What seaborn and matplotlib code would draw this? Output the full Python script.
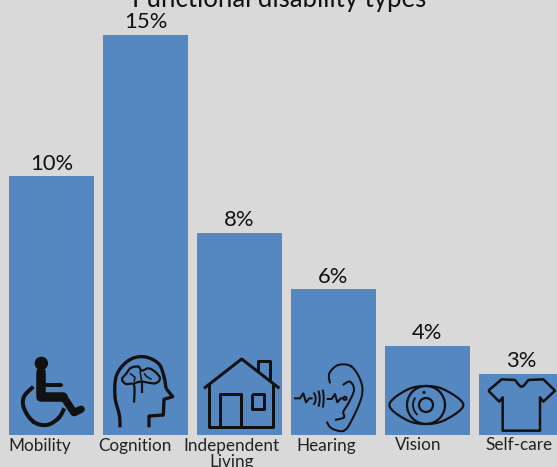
import numpy as np
import pandas as pd
import matplotlib
matplotlib.use('Agg')
import matplotlib.pyplot as plt
from matplotlib.patches import Circle, Arc
import seaborn as sns

categories = ['Mobility', 'Cognition', 'Independent\nLiving', 'Hearing', 'Vision', 'Self-care']
percents = [10, 15, 8, 6, 4, 3]
percent_labels = ['10%', '15%', '8%', '6%', '4%', '3%']
title_text = 'Functional disability types'
label_shift = [-11.5, -10.5, -8, -7, -9, -3]

bg = '#D9D9D9'
blue = '#5587C1'
ink = '#111111'

sns.set_theme(style='white')
plt.rcParams['font.family'] = 'Lato'

df = pd.DataFrame({'kind': categories, 'pct': percents})

fig = plt.figure(figsize=(5.57, 4.67), dpi=100, facecolor=bg)
ax = fig.add_axes([0, 32 / 467, 1, 435 / 467], facecolor=bg)
sns.barplot(data=df, x='kind', y='pct', color=blue, saturation=1, width=0.904,
            edgecolor='none', linewidth=0, ax=ax)
ax.set_xlim(-0.548, 5.378)
ax.set_ylim(0.85, 16.24)
ax.set_xlabel('')
ax.set_ylabel('')
ax.set_yticks([])
ax.set_xticks(range(len(categories)))
ax.set_xticklabels([])
ax.tick_params(length=0)
sns.despine(ax=ax, left=True, bottom=True, top=True, right=True)

ax.bar_label(ax.containers[0], labels=percent_labels, fontsize=15.8, color=ink, padding=2)
for i, name in enumerate(categories):
    ax.annotate(name, (i, 0), xycoords=('data', 'axes fraction'),
                xytext=(label_shift[i] * 0.72, -1.8), textcoords='offset points',
                ha='center', va='top', fontsize=12.3, color='#222222', linespacing=1.05)
fig.text(279 / 557, 1 + 1 / 467, title_text, ha='center', va='center', fontsize=18.5, color=ink)

# icons are drawn in reference pixels on a see-through layer
top = fig.add_axes([0, 0, 1, 1], facecolor='none')
top.set_xlim(0, 557)
top.set_ylim(467, 0)
top.axis('off')


def z1(pts):
    return [(x / 3, 340 + y / 3) for x, y in pts]


def z2(pts):
    return [(280 + x / 3, 340 + y / 3) for x, y in pts]


def smooth(pts, closed=False):
    p = np.array(pts, dtype=float)
    if closed:
        p = np.vstack([p[-1], p, p[0], p[1]])
    else:
        p = np.vstack([p[0], p, p[-1]])
    out = []
    t = np.linspace(0, 1, 12)[:, None]
    for i in range(1, len(p) - 2):
        a, b, c, d = p[i - 1], p[i], p[i + 1], p[i + 2]
        out.append(0.5 * (2 * b + (c - a) * t + (2 * a - 5 * b + 4 * c - d) * t ** 2 + (3 * b - a - 3 * c + d) * t ** 3))
    return np.vstack(out)


def line(pts, width=3, curve=False, closed=False, cap='butt'):
    p = smooth(pts, closed) if curve else np.array(pts)
    if closed and not curve:
        p = np.vstack([p, p[0]])
    top.plot(p[:, 0], p[:, 1], color=ink, lw=width * 0.72, solid_capstyle=cap, solid_joinstyle='round')


# wheelchair
top.add_patch(Circle(z1([(124, 70)])[0], 6, color=ink))
line(z1([(124, 97), (124, 170), (190, 170)]), 9.5, cap='round')
line(z1([(190, 170), (222, 218), (243, 208)]), 7.5, cap='round')
line(z1([(124, 135), (182, 135)]), 4, cap='round')
line(z1([(100, 140), (72, 170), (72, 205), (100, 245), (140, 255), (175, 235), (193, 205)]), 4, curve=True)

# head with brain
line(z1([(360, 262), (358, 225), (345, 170), (350, 105), (385, 62), (430, 50), (475, 70), (492, 110), (498, 145)]), 3.3, curve=True)
line(z1([(498, 145), (518, 170), (492, 178), (490, 225), (447, 228), (447, 262)]), 3.3)
line(z1([(402, 188), (402, 135), (378, 132), (366, 118), (378, 102), (392, 84), (415, 80), (425, 92), (445, 85), (465, 95), (480, 115), (465, 130), (425, 125), (402, 130)]), 2.2, curve=True)
line(z1([(425, 160), (425, 125)]), 2.2)
line(z1([(390, 100), (405, 112), (402, 125)]), 1.5)
line(z1([(420, 92), (425, 125)]), 1.5)
line(z1([(432, 100), (440, 110), (455, 118)]), 1.5)

# house
line(z1([(612, 145), (725, 57), (838, 145)]), 3)
line(z1([(773, 95), (773, 63), (810, 63), (810, 122)]), 3)
line(z1([(628, 130), (628, 262), (820, 262), (820, 133)]), 3)
line(z1([(660, 262), (660, 162), (722, 162), (722, 262)]), 3)
line(z1([(755, 162), (792, 162), (792, 206), (755, 206)]), 3, closed=True)

# ear
line(z2([(150, 130), (148, 100), (175, 75), (215, 80), (243, 125), (245, 170), (218, 235), (192, 272), (155, 265), (140, 245)]), 2, curve=True)
line(z2([(188, 135), (210, 125), (222, 150), (205, 190), (190, 215), (192, 232), (165, 240)]), 2, curve=True)
line(z2([(42, 175), (60, 175), (70, 160), (78, 187), (88, 175), (98, 175)]), 2)
line(z2([(140, 177), (155, 177), (165, 162), (172, 187), (182, 175), (194, 175)]), 2)
top.add_patch(Circle(z2([(195, 175)])[0], 1.7, fill=False, ec=ink, lw=1.3))
for xc, h in zip([100, 112, 124], [22, 36, 48]):
    top.add_patch(Arc(z2([(xc - 8, 176)])[0], 10, h / 1.5, theta1=-65, theta2=65, ec=ink, lw=1.4))

# eye
line(z2([(328, 195), (380, 150), (438, 138), (495, 150), (550, 195), (495, 240), (438, 252), (380, 240)]), 2.2, curve=True, closed=True)
cx, cy = z2([(438, 195)])[0]
top.add_patch(Circle((cx, cy), 19, fill=False, ec=ink, lw=1.6))
top.add_patch(Circle((cx, cy), 7, fill=False, ec=ink, lw=1.6))
top.add_patch(Arc((cx, cy), 26, 26, theta1=130, theta2=215, ec=ink, lw=1.3))
top.add_patch(Circle(z2([(432, 157)])[0], 0.9, color=ink))

# shirt
neck = smooth(z2([(705, 120), (725, 140), (745, 120)]))
shirt = z2([(625, 152), (665, 118), (705, 120)]) + [tuple(q) for q in neck] + z2([(790, 118), (825, 152), (790, 185), (780, 172), (780, 272), (668, 272), (668, 172), (658, 185)])
line(shirt, 2.5, closed=True)

fig.savefig('out.png', dpi=100, facecolor=bg)
